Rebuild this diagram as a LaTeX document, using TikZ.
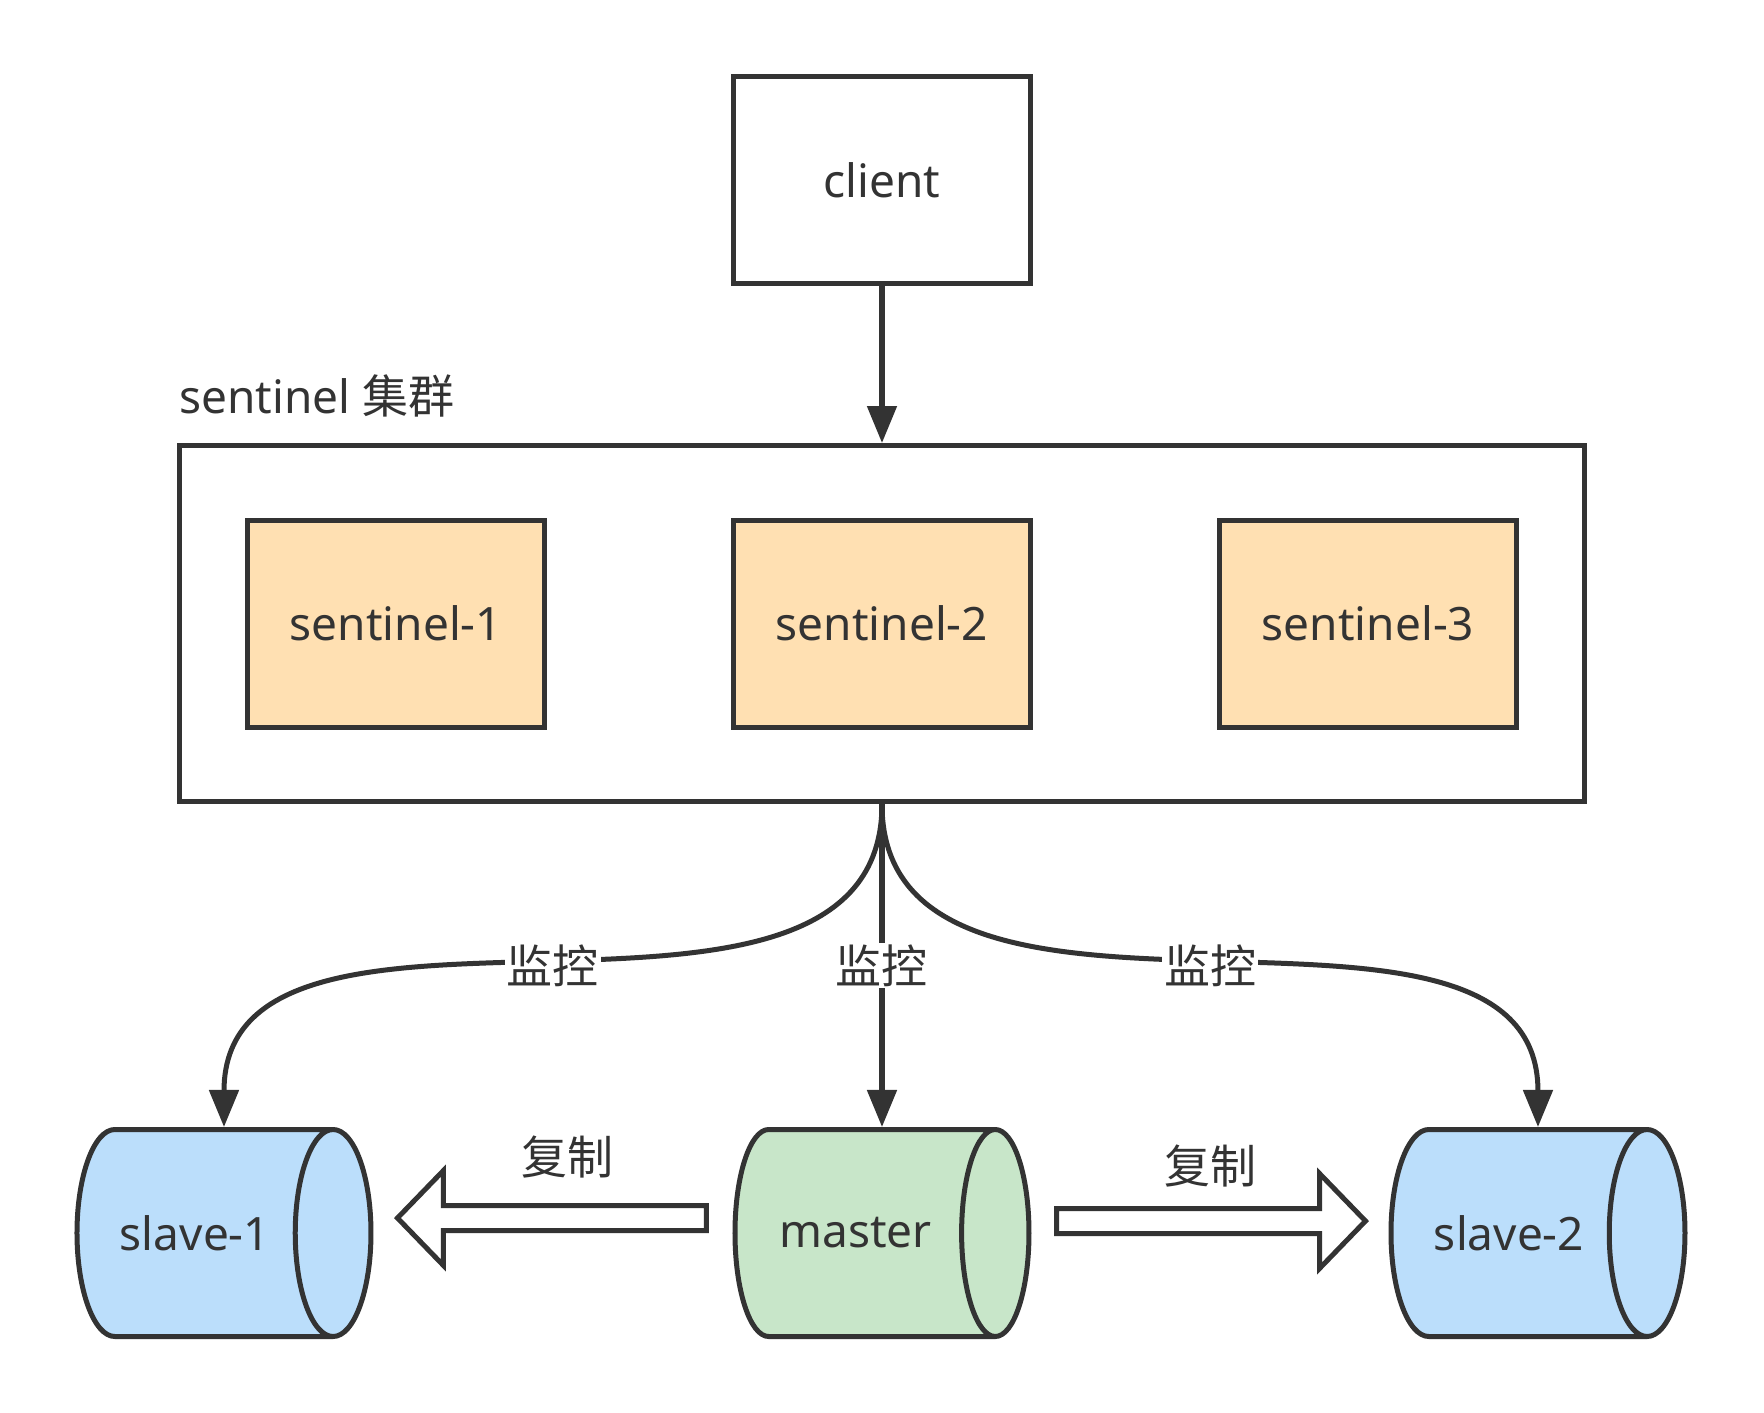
\documentclass[tikz,border=0pt]{standalone}
\usepackage{fontspec}
\setmainfont{Noto Sans}
\newfontfamily\cjk{Noto Sans CJK SC}
\usetikzlibrary{positioning,shapes.geometric,arrows.meta,calc}
\definecolor{linegray}{HTML}{333333}
\definecolor{sentfill}{HTML}{FFE0B2}
\definecolor{slavefill}{HTML}{BBDEFB}
\definecolor{masterfill}{HTML}{C8E6C9}

\begin{document}
\begin{tikzpicture}[x=1pt, y=1pt, line width=5pt, color=linegray,
		every node/.style={font=\fontsize{46}{55}\selectfont},
		plainbox/.style={draw, rectangle, minimum width=297pt, minimum height=207pt},
		sentbox/.style={plainbox, fill=sentfill},
		db/.style={draw, cylinder, aspect=1.8, minimum width=207pt, minimum height=294pt, anchor=shape center},
		monitor/.style={-{Triangle[length=37pt, width=29pt]}},
		tag/.style={fill=white, inner sep=2pt, font=\cjk\fontsize{46}{55}\selectfont},
		copyarrow/.style={line join=miter, fill=white}
	]
		\useasboundingbox (-882,180) rectangle (882,-1233);
		
		\node [plainbox] (client) at (0,0) {client};
		\node [plainbox, below=157pt of client, minimum width=1405pt, minimum height=356pt] (cluster) {};
		\node [anchor=base west, inner sep=0pt] (clustertitle) at ($(cluster.north west)+(0,30)$) {sentinel {\cjk 集群}};
		\node [sentbox] (sent2) at (cluster) {sentinel-2};
		\node [sentbox, left=184pt of sent2] (sent1) {sentinel-1};
		\node [sentbox, right=184pt of sent2] (sent3) {sentinel-3};
		
		\node [db, fill=masterfill] (master) at ($(cluster.south)+(0,-429)$) {master\hspace*{8pt}};
		\node [db, fill=slavefill] (slave1) at ($(cluster.south)+(-658,-429)$) {slave-1\hspace*{8pt}};
		\node [db, fill=slavefill] (slave2) at ($(cluster.south)+(656,-429)$) {slave-2\hspace*{8pt}};
		
		\draw [monitor] (client) -- (cluster);
		\draw [monitor] (cluster.south) to[out=-90, in=90] node[tag] {监控} (slave1.shape center |- slave1.north);
		\draw [monitor] (cluster.south) -- node[tag] {监控} (master.shape center |- master.north);
		\draw [monitor] (cluster.south) to[out=-90, in=90] node[tag] {监控} (slave2.shape center |- slave2.north);
		
		% replication arrows
		\draw [copyarrow] let \p1=($(master.west)+(-26,15)$), \p2=($(slave1.east)+(24,15)$) in
			(\x1,\y1+12.5pt) -- (\x2+46pt,\y1+12.5pt) -- (\x2+46pt,\y1+47.5pt) -- (\x2,\y1)
			-- (\x2+46pt,\y1-47.5pt) -- (\x2+46pt,\y1-12.5pt) -- (\x1,\y1-12.5pt) -- cycle;
		\draw [copyarrow] let \p1=($(master.east)+(25,12)$), \p2=($(slave2.west)+(-23,12)$) in
			(\x1,\y1+12.5pt) -- (\x2-46pt,\y1+12.5pt) -- (\x2-46pt,\y1+47.5pt) -- (\x2,\y1)
			-- (\x2-46pt,\y1-47.5pt) -- (\x2-46pt,\y1-12.5pt) -- (\x1,\y1-12.5pt) -- cycle;
		\node [tag, fill=none] (copyleft) at ($(master.west)!0.5!(slave1.east)+(15,76)$) {复制};
		\node [tag, fill=none] (copyright) at ($(master.east)!0.5!(slave2.west)+(0,67)$) {复制};
	\end{tikzpicture}
\end{document}
